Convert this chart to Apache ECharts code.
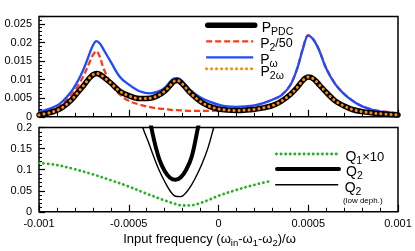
<!DOCTYPE html>
<html><head><meta charset="utf-8">
<script src="https://cdn.jsdelivr.net/npm/echarts@6/dist/echarts.min.js"></script>
<style>html,body{margin:0;padding:0;background:#fff}#c{width:415px;height:251px}</style>
</head><body><div id="c"></div><script>
// ---- data ----
const xTop = [-0.001,-0.00094,-0.00088,-0.00082,-0.00078,-0.00075,-0.00072,-0.0007,-0.00068,-0.00066,
  -0.00064,-0.0006,-0.00055,-0.0005,-0.00044,-0.00038,-0.00033,-0.0003,-0.00027,-0.00025,
  -0.00023,-0.0002,-0.00016,-0.0001,-0.00005,0,0.00005,0.0001,0.00015,0.0002,
  0.00025,0.0003,0.00035,0.0004,0.00044,0.00047,0.0005,0.00053,0.00056,0.0006,
  0.00065,0.0007,0.00075,0.0008,0.00088,0.001];
const pPDC = [0.0005,0.0011,0.0022,0.0045,0.0068,0.0085,0.0104,0.0113,0.0117,0.0114,
  0.0107,0.0091,0.0069,0.0057,0.0049,0.0050,0.0059,0.0069,0.0084,0.0095,
  0.0098,0.0088,0.0066,0.0041,0.0028,0.0021,0.0018,0.0017,0.0018,0.0020,
  0.0024,0.0030,0.0042,0.0060,0.0080,0.0098,0.0107,0.0102,0.0087,0.0066,
  0.0043,0.0029,0.0019,0.0014,0.0009,0.0005];
const p2Over50 = [0.0011,0.0019,0.0032,0.0058,0.0086,0.0112,0.0145,0.0166,0.0177,0.0160,
  0.0130,0.0090,0.0060,0.0043,0.0033,0.0026,0.0022,0.0021,0.0019,0.0018,
  0.0018,0.0017,0.0016,0.0016,0.0016,0.0017,0.0018,0.0020,0.0023,0.0029,
  0.0037,0.0046,0.0058,0.0086,0.0133,0.0184,0.0220,0.0208,0.0181,0.0131,
  0.0089,0.0062,0.0043,0.0029,0.0017,0.0010];
const pOmega = [0.0013,0.0022,0.0037,0.0068,0.0100,0.0130,0.0168,0.0192,0.0204,0.0197,
  0.0181,0.0148,0.0108,0.0087,0.0069,0.0063,0.0069,0.0078,0.0094,0.0103,
  0.0104,0.0095,0.0073,0.0052,0.0041,0.0033,0.0028,0.0027,0.0028,0.0031,
  0.0037,0.0046,0.0058,0.0085,0.0132,0.0183,0.0219,0.0207,0.0180,0.0130,
  0.0088,0.0061,0.0042,0.0028,0.0016,0.0009];
const p2Omega = [0.0005,0.0011,0.0022,0.0045,0.0068,0.0085,0.0104,0.0113,0.0117,0.0114,
  0.0107,0.0091,0.0069,0.0057,0.0049,0.0050,0.0059,0.0069,0.0084,0.0095,
  0.0098,0.0088,0.0066,0.0041,0.0028,0.0021,0.0018,0.0017,0.0018,0.0020,
  0.0024,0.0030,0.0042,0.0060,0.0080,0.0098,0.0107,0.0102,0.0087,0.0066,
  0.0043,0.0029,0.0019,0.0014,0.0009,0.0005];

const xQ1 = [-0.001,-0.0009,-0.0008,-0.0007,-0.0006,-0.0005,-0.0004,-0.0003,-0.00025,-0.0002,
  -0.00015,-0.0001,-0.00005,0,0.0001,0.0002,0.00029];
const q1x10 = [0.116,0.111,0.101,0.089,0.075,0.060,0.043,0.027,0.020,0.015,
  0.0155,0.021,0.029,0.038,0.052,0.064,0.073];
const xQ2 = [-0.00039,-0.00036,-0.00033,-0.0003,-0.00027,-0.00024,-0.00021,-0.00018,-0.00015,-0.00012,-0.00009];
const q2 = [0.235,0.172,0.125,0.097,0.081,0.076,0.082,0.100,0.130,0.188,0.255];
const xQ2low = [-0.00045,-0.00042,-0.00039,-0.00036,-0.00033,-0.0003,-0.00027,-0.00024,-0.00021,-0.00018,
  -0.00015,-0.00012,-0.00009,-0.00006,-0.00003,0];
const q2low = [0.240,0.198,0.165,0.130,0.098,0.072,0.050,0.037,0.036,0.046,
  0.064,0.088,0.116,0.150,0.195,0.245];

const xTickValues = [-0.001,-0.0005,0,0.0005,0.001];
const xTickLabels = ['-0.001','-0.0005','0','0.0005','0.001'];
const yTopTickValues = [0,0.005,0.01,0.015,0.02,0.025];
const yTopTickLabels = ['0','0.005','0.01','0.015','0.02','0.025'];
const yBotTickValues = [0,0.05,0.1,0.15,0.2];
const yBotTickLabels = ['0','0.05','0.1','0.15','0.2'];

// ---- chart ----
const FONT = '"Liberation Sans", Arial, Helvetica, sans-serif';
const zip = (xs, ys) => xs.map((x, i) => [x, ys[i]]);
const labelFor = (vals, labels) => v => {
  const i = vals.findIndex(t => Math.abs(t - v) < 1e-9);
  return i >= 0 ? labels[i] : '';
};
const C = {red:'#ff3a12', blue:'#1f4bff', black:'#000', orange:'#ff8c00', green:'#1fb41f'};

const legendRich = {
  m:{fontSize:14, fontFamily:FONT, color:'#000', lineHeight:24, verticalAlign:'middle'},
  s:{fontSize:10.5, fontFamily:FONT, color:'#000', lineHeight:10, padding:[8,0,0,0], verticalAlign:'middle'},
  r:{fontSize:12.5, fontFamily:FONT, color:'#000', lineHeight:12, padding:[0,0,2,0], verticalAlign:'middle'},
  x:{fontSize:13, fontFamily:FONT, color:'#000', lineHeight:14, verticalAlign:'middle'}
};
const legendText = {
  'P_PDC':'{m|P}{s|PDC}',
  'P_2/50':'{m|P}{s|2}{r|/50}',
  'P_ω':'{m|P}{s|ω}',
  'P_2ω':'{m|P}{s|2ω}',
  'Q_1×10':'{m|Q}{s|1}{x|×10}',
  'Q_2':'{m|Q}{s|2}',
  'Q_2 (low deph.)':'{m|Q}{s|2}'
};
function legend(name, left, lineY, w, ls) {
  return {
    left: left, top: lineY - 8.5, padding: 0, orient: 'vertical',
    itemWidth: w, itemHeight: 10, selectedMode: false,
    data: [name],
    lineStyle: ls, itemStyle: {opacity: 0},
    formatter: n => legendText[n],
    textStyle: {padding:[6,0,0,2], rich: legendRich}
  };
}

function xAxis(gi, labels) {
  const a = {
    type:'value', gridIndex: gi, min:-0.001, max:0.001, interval:0.0005,
    axisLine:{show:false, onZero:false}, splitLine:{show:false},
    axisTick:{show:true, inside:true, length:7, lineStyle:{color:'#000', width:1.2}},
    minorTick:{show:true, splitNumber:5, length:4, lineStyle:{color:'#000', width:1}},
    axisLabel:{show: labels, formatter: labelFor(xTickValues, xTickLabels), color:'#000', fontSize:11, fontFamily:FONT, margin:7}
  };
  if (labels) {
    a.name = '{n|Input frequency (ω}{s|in}{n|-ω}{s|1}{n|-ω}{s|2}{n|)/ω}';
    a.nameLocation = 'middle';
    a.nameGap = 16;
    a.nameTextStyle = {padding:[0,18,0,0], rich:{
      n:{fontSize:13, fontFamily:FONT, color:'#000', lineHeight:14, verticalAlign:'middle'},
      s:{fontSize:9.5, fontFamily:FONT, color:'#000', lineHeight:9, padding:[8,0,0,0], verticalAlign:'middle'}
    }};
  }
  return a;
}

const line = (name, gi, xs, ys, color, width, type, cap, z) => ({
  name, type:'line', xAxisIndex: gi, yAxisIndex: gi === 0 ? 0 : 2,
  data: zip(xs, ys), symbol:'none', smooth: 0.35, clip: true, z: z,
  lineStyle:{color, width, type, cap: cap || 'butt', join:'round'},
  itemStyle:{color}
});

const option = {
  animation:false,
  backgroundColor:'#fff',
  grid:[
    {left:39, right:17, top:16.6, height:100.2, show:true, borderColor:'#000', borderWidth:1.5, backgroundColor:'transparent'},
    {left:39, right:17, top:127.6, height:84.2, show:true, borderColor:'#000', borderWidth:1.5, backgroundColor:'transparent'}
  ],
  xAxis:[xAxis(0,false), xAxis(1,true)],
  yAxis:[
    {type:'value', gridIndex:0, min:0, max:0.027, interval:0.005, position:'left',
     axisLine:{show:false, onZero:false}, splitLine:{show:false},
     axisTick:{show:true, inside:true, length:6, lineStyle:{color:'#000', width:1.2}},
     axisLabel:{formatter: labelFor(yTopTickValues, yTopTickLabels), color:'#000', fontSize:11, fontFamily:FONT, margin:7}},
    {type:'value', gridIndex:0, min:0, max:0.027, interval:0.001, position:'left', offset:0,
     axisLine:{show:false, onZero:false}, splitLine:{show:false}, axisLabel:{show:false},
     axisTick:{show:true, inside:true, length:3, lineStyle:{color:'#000', width:1}}},
    {type:'value', gridIndex:1, min:0, max:0.2, interval:0.05, position:'left',
     axisLine:{show:false, onZero:false}, splitLine:{show:false},
     axisTick:{show:true, inside:true, length:6, lineStyle:{color:'#000', width:1.2}},
     minorTick:{show:true, splitNumber:5, length:3, lineStyle:{color:'#000', width:1}},
     axisLabel:{formatter: labelFor(yBotTickValues, yBotTickLabels), color:'#000', fontSize:11, fontFamily:FONT, margin:7}}
  ],
  legend:[
    legend('P_PDC', 205, 27.3, 47, {width:5.5, color:C.black, type:'solid'}),
    legend('P_2/50', 205, 43.3, 47, {width:2.3, color:C.red, type:[6,3]}),
    legend('P_ω', 205, 59.3, 47, {width:2.3, color:C.blue, type:'solid'}),
    legend('P_2ω', 205, 70.7, 47, {width:3, color:C.orange, type:[0.1,4.9], cap:'round'}),
    legend('Q_1×10', 275, 156, 62, {width:2.8, color:C.green, type:[0.1,4.5], cap:'round'}),
    legend('Q_2', 275, 171, 62, {width:4, color:C.black, type:'solid'}),
    legend('Q_2 (low deph.)', 275, 186.7, 62, {width:1.4, color:C.black, type:'solid'})
  ],
  graphic:[
    {type:'text', left:343, top:197, style:{text:'(low deph.)', font:'8px "Liberation Sans", Arial, sans-serif', fill:'#000'}}
  ],
  series:[
    line('P_2/50', 0, xTop, p2Over50, C.red, 2.3, [6,3], 'butt', 2),
    line('P_ω', 0, xTop, pOmega, C.blue, 2.3, 'solid', 'butt', 3),
    line('P_PDC', 0, xTop, pPDC, C.black, 5.5, 'solid', 'round', 4),
    line('P_2ω', 0, xTop, p2Omega, C.orange, 3, [0.1,4.9], 'round', 5),
    line('Q_1×10', 1, xQ1, q1x10, C.green, 2.8, [0.1,4.5], 'round', 2),
    line('Q_2', 1, xQ2, q2, C.black, 4, 'solid', 'round', 3),
    line('Q_2 (low deph.)', 1, xQ2low, q2low, C.black, 1.4, 'solid', 'round', 3)
  ]
};
const chart = echarts.init(document.getElementById('c'), null, {renderer:'canvas'});
chart.setOption(option);
</script></body></html>
